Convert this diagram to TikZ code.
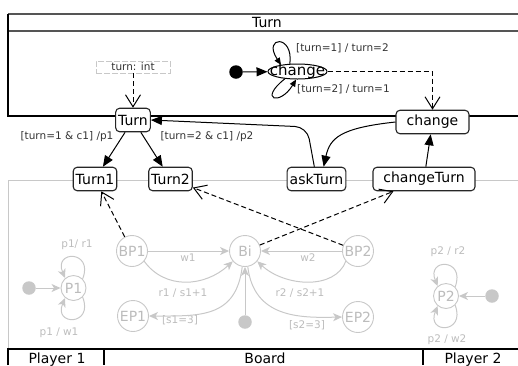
\documentclass[tikz,border=0pt]{standalone}
\usepackage{fontspec}
\setmainfont{DejaVu Sans}
\usetikzlibrary{arrows.meta, shapes.geometric}
\definecolor{faded}{RGB}{200,200,200}
\definecolor{fadedtext}{RGB}{188,188,188}
\definecolor{framegray}{RGB}{85,85,85}
\begin{document}
\begin{tikzpicture}[x = 1pt, y = -1pt, font = \fontsize{14}{16}\selectfont,
		state/.style = {draw = black!85, line width = 1.1pt, fill = white, rounded corners = 4pt, minimum height = 23.5pt, inner xsep = 2.5pt, inner ysep = 0pt},
		substate/.style = {circle, draw = faded, line width = 0.9pt, text = fadedtext, fill = white, minimum size = 31pt, inner sep = 0pt},
		initdot/.style = {circle, fill = #1, inner sep = 0pt, minimum size = 13.5pt},
		tiny/.style = {font = \fontsize{10.5}{12}\selectfont, inner sep = 1pt, text = black!80},
		fadedlabel/.style = {tiny, text = fadedtext},
		solidarr/.style = {-{Triangle[length = 11pt, width = 9pt]}, line width = 1pt},
		looparr/.style = {-{Triangle[length = 7pt, width = 6pt]}, line width = 1pt},
		dasharr/.style = {-{Straight Barb[length = 12pt, width = 15pt]}, dash pattern = on 5pt off 3pt, line width = 1pt},
		fadedarr/.style = {-{Stealth[length = 9pt, width = 8pt, inset = 2.5pt]}, color = faded, line width = 1pt}]
		\useasboundingbox (0, 0) rectangle (518, 365);
		%%%%%%%%%%%%%
		\draw[framegray, line width = 1.3pt] (8, 14) -- (518, 14);
		\draw[framegray, line width = 1.3pt] (8, 31) -- (518, 31);
		\draw[line width = 1.2pt] (8, 14) -- (8, 116) -- (518, 116);
		\draw[faded, line width = 1pt] (518, 180) -- (8, 180) -- (8, 349);
		\draw[line width = 1.2pt] (8, 365) -- (8, 349) -- (518, 349);
		\draw[line width = 1.2pt] (104, 349) -- (104, 365);
		\draw[line width = 1.2pt] (423, 349) -- (423, 365);
		%%%%%%%%%%%%%
		\node[anchor = base] (title) at (267, 27.5) {Turn};
		\node[anchor = base] (pone) at (57, 363) {Player 1};
		\node[anchor = base] (board) at (265, 363) {Board};
		\node[anchor = base] (ptwo) at (473, 363) {Player 2};
		%%%%%%%%%%%%%
		\node[draw = faded, dash pattern = on 6pt off 2pt, line width = 0.8pt, tiny, minimum width = 74pt, minimum height = 12pt, inner sep = 0pt] (var) at (133, 67) {turn: int};
		\node[initdot = black] (init) at (236, 72) {};
		\node[ellipse, draw, line width = 1pt, minimum width = 59pt, minimum height = 15pt, inner sep = 0pt, label = {[font = \fontsize{15}{16}\selectfont]center:change}] (chg) at (297.5, 71.5) {};
		\node[tiny, anchor = west] (lup) at (295, 48) {[turn=1] / turn=2};
		\node[tiny, anchor = west] (ldown) at (296, 89) {[turn=2] / turn=1};
		%%%%%%%%%%%%%
		\node[state] (Turn) at (133, 120) {Turn};
		\node[state] (Turn1) at (95, 179) {Turn1};
		\node[state] (Turn2) at (170.5, 179) {Turn2};
		\node[state] (askTurn) at (316.5, 179) {askTurn};
		\node[state, minimum width = 102pt] (changeTurn) at (424, 179) {changeTurn};
		\node[state, minimum width = 73pt] (change) at (432.5, 122) {change};
		\node[tiny] (lone) at (67, 137) {[turn=1 \& c1] /p1};
		\node[tiny] (ltwo) at (207, 137) {[turn=2 \& c1] /p2};
		%%%%%%%%%%%%%
		\node[substate] (BP1) at (132, 251) {BP1};
		\node[substate] (Bi) at (245, 251) {Bi};
		\node[substate] (BP2) at (358, 251) {BP2};
		\node[substate] (EP1) at (133, 316) {EP1};
		\node[substate] (EP2) at (358, 317) {EP2};
		\node[substate, minimum size = 25pt] (P1) at (73.5, 288) {P1};
		\node[substate, minimum size = 25pt] (P2) at (446, 296) {P2};
		\node[initdot = faded] (bdot) at (245, 322) {};
		\node[initdot = faded] (dotone) at (29, 288) {};
		\node[initdot = faded] (dottwo) at (492, 296) {};
		\node[fadedlabel] (lwone) at (188, 258) {w1};
		\node[fadedlabel] (lrone) at (183, 293) {r1 / s1+1};
		\node[fadedlabel] (lwtwo) at (308, 258) {w2};
		\node[fadedlabel] (lrtwo) at (300, 293) {r2 / s2+1};
		\node[fadedlabel] (lsone) at (180, 320) {[s1=3]};
		\node[fadedlabel] (lstwo) at (307, 325) {[s2=3]};
		\node[fadedlabel] (lpone) at (77, 245) {p1/ r1};
		\node[fadedlabel] (lponew) at (59, 333) {p1 / w1};
		\node[fadedlabel] (lptwo) at (448, 252) {p2 / r2};
		\node[fadedlabel] (lptwow) at (447, 340) {p2 / w2};
		%%%%%%%%%%%%%
		\draw[dasharr] (var) -- (Turn);
		\draw[solidarr] (init) -- (chg);
		\draw[looparr] (chg.135) .. controls (294, 34) and (262, 36) .. (chg.158);
		\draw[looparr] (chg.-150) .. controls (258, 100) and (280, 106) .. (chg.-100);
		\draw[dasharr] (chg) -| (change);
		\draw[solidarr] (Turn) -- (Turn1);
		\draw[solidarr] (Turn) -- (Turn2);
		\draw[solidarr, rounded corners = 12pt] (askTurn.100) -- (307, 127) -- (Turn.east);
		\draw[solidarr] (change.west) .. controls (340, 128) and (330, 138) .. (askTurn.60);
		\draw[solidarr] (changeTurn) -- (change);
		%%%%%%%%%%%%%
		\draw[fadedarr] (BP1) -- (Bi);
		\draw[fadedarr] (BP1.-40) .. controls (165, 290) and (205, 287) .. (Bi.-140);
		\draw[fadedarr] (BP2) -- (Bi);
		\draw[fadedarr] (BP2.-140) .. controls (335, 290) and (285, 287) .. (Bi.-40);
		\draw[fadedarr] (bdot) -- (Bi);
		\draw[fadedarr] (Bi.-100) .. controls (236, 318) and (200, 316) .. (EP1.east);
		\draw[fadedarr] (Bi.-80) .. controls (254, 318) and (300, 318) .. (EP2.west);
		\draw[fadedarr] (dotone) -- (P1);
		\draw[fadedarr] (dottwo) -- (P2);
		\draw[fadedarr] (P1.45) .. controls (94, 250) and (53, 250) .. (P1.130);
		\draw[fadedarr] (P1.-45) .. controls (94, 326) and (53, 326) .. (P1.-130);
		\draw[fadedarr] (P2.45) .. controls (466, 258) and (426, 258) .. (P2.130);
		\draw[fadedarr] (P2.-45) .. controls (466, 334) and (426, 334) .. (P2.-130);
		%%%%%%%%%%%%%
		\draw[dasharr] (BP1) -- (Turn1);
		\draw[dasharr] (BP2) -- (Turn2);
		\draw[dasharr] (Bi) -- (changeTurn);
		%%%%%%%%%%%%%%
	\end{tikzpicture}
\end{document}
